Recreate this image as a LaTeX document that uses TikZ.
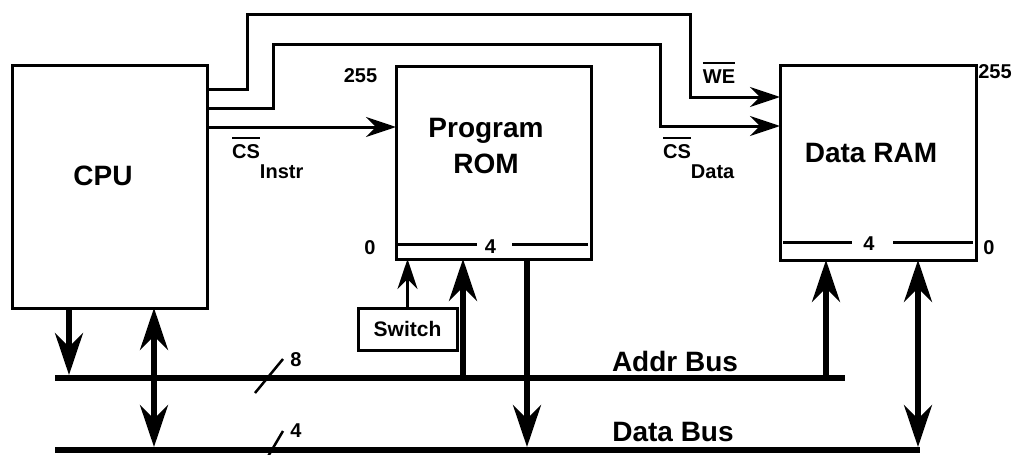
\documentclass[tikz,border=0pt]{standalone}
\usepackage{fontspec}
\setmainfont{Liberation Sans}
\usetikzlibrary{arrows.meta,calc}
% signal name with an active-low bar over it
\newcommand\barred[1]{\vbox{\hrule height 2.5pt\kern 5pt\hbox{#1}}}
\begin{document}
\begin{tikzpicture}[x=1pt,y=-1pt,
  block/.style={draw,line width=3pt,inner sep=0pt,outer sep=0pt},
  big/.style={font=\fontsize{28}{32}\selectfont\bfseries,anchor=base,inner sep=0pt},
  small/.style={font=\fontsize{20}{24}\selectfont\bfseries,anchor=base,inner sep=0pt},
  wire/.style={line width=3pt},
  bus/.style={line width=6pt},
  tap/.style={line width=5.5pt},
  slash/.style={line width=2.5pt},
  bighead/.tip={Stealth[length=42pt,width=28pt,inset=14pt]},
  smallhead/.tip={Stealth[length=30pt,width=20pt,inset=10pt]}]
\useasboundingbox (0,0) rectangle (1015,455);

% blocks
\node[block,minimum width=195pt,minimum height=243pt] (cpu) at (109.5,186.5) {};
\node[block,minimum width=195pt,minimum height=193pt] (rom) at (493.5,162.5) {};
\node[block,minimum width=196pt,minimum height=195pt] (ram) at (878,162.5) {};
\node[block,minimum width=99pt,minimum height=42pt,
      font=\fontsize{21}{24}\selectfont\bfseries] (sw) at (407.5,329) {Switch};

% block titles
\node[big] (cpulbl) at (103,185) {CPU};
\node[big] (romlbl1) at (486,137) {Program};
\node[big] (romlbl2) at (486,173) {ROM};
\node[big] (ramlbl) at (871,162) {Data RAM};

% address range and data width marks
\node[small] (romhi) at (360.5,82) {255};
\node[small] (romlo) at (370,254) {0};
\node[small] (romw) at (490.5,253) {4};
\draw[wire] ($(rom.south west)+(1.5,-15)$) -- ($(rom.south west)+(81,-15)$);
\draw[wire] ($(rom.south west)+(116,-15)$) -- ($(rom.south east)+(-3,-15)$);

\node[small] (ramhi) at (995,78) {255};
\node[small] (ramlo) at (989,254) {0};
\node[small] (ramw) at (869,250) {4};
\draw[wire] ($(ram.south west)+(3,-18)$) -- ($(ram.south west)+(72,-18)$);
\draw[wire] ($(ram.south west)+(113,-18)$) -- ($(ram.south east)+(-3,-18)$);

% control signals
\node[small,anchor=base west] (csi) at (232,158) {\barred{CS}\raisebox{-20pt}{Instr}};
\node[small,anchor=base west] (csd) at (663,158) {\barred{CS}\raisebox{-20pt}{Data}};
\node[small] (we) at (719,83) {\barred{WE}};

\draw[wire,-{smallhead}] ($(cpu.north east)+(0,62)$) -- ($(rom.north west)+(0,61)$);

\coordinate (weA) at (247,14);
\coordinate (weB) at (690,14);
\draw[wire,-{smallhead}] ($(cpu.north east)+(0,24)$) -| (weA) -- (weB)
      |- ($(ram.north west)+(0,32)$);

\coordinate (csA) at (273,44);
\coordinate (csB) at (660,44);
\draw[wire,-{smallhead}] ($(cpu.north east)+(0,43)$) -| (csA) -- (csB)
      |- ($(ram.north west)+(0,61)$);

\draw[wire,-{smallhead}] (sw.north) -- (sw.north |- rom.south);

% buses
\coordinate (ab0) at (55,378);
\coordinate (ab1) at (845,378);
\coordinate (db0) at (55,450);
\coordinate (db1) at (920,450);
\draw[bus] (ab0) -- (ab1);
\draw[bus] (db0) -- (db1);
\node[big] (addrlbl) at (675,371) {Addr Bus};
\node[big] (datalbl) at (673,441) {Data Bus};

\coordinate (s1a) at (255,393);
\coordinate (s1b) at (283,359);
\coordinate (s2a) at (263,465);
\coordinate (s2b) at (283,431);
\draw[slash] (s1a) -- (s1b);
\draw[slash] (s2a) -- (s2b);
\node[small] (abw) at (296,366) {8};
\node[small] (dbw) at (296,437) {4};

% bus connections
\coordinate (t1) at (69,375);
\coordinate (t2) at (154,447);
\coordinate (t3) at (463,378);
\coordinate (t4) at (527,447);
\coordinate (t5) at (826,378);
\coordinate (t6) at (918,447);
\draw[tap,-{bighead}] (t1 |- cpu.south) -- (t1);
\draw[tap,{bighead}-{bighead}] (t2 |- cpu.south) -- (t2);
\draw[tap,-{bighead}] (t3) -- (t3 |- rom.south);
\draw[tap,-{bighead}] (t4 |- rom.south) -- (t4);
\draw[tap,-{bighead}] (t5) -- (t5 |- ram.south);
\draw[tap,{bighead}-{bighead}] (t6 |- ram.south) -- (t6);
\end{tikzpicture}
\end{document}
